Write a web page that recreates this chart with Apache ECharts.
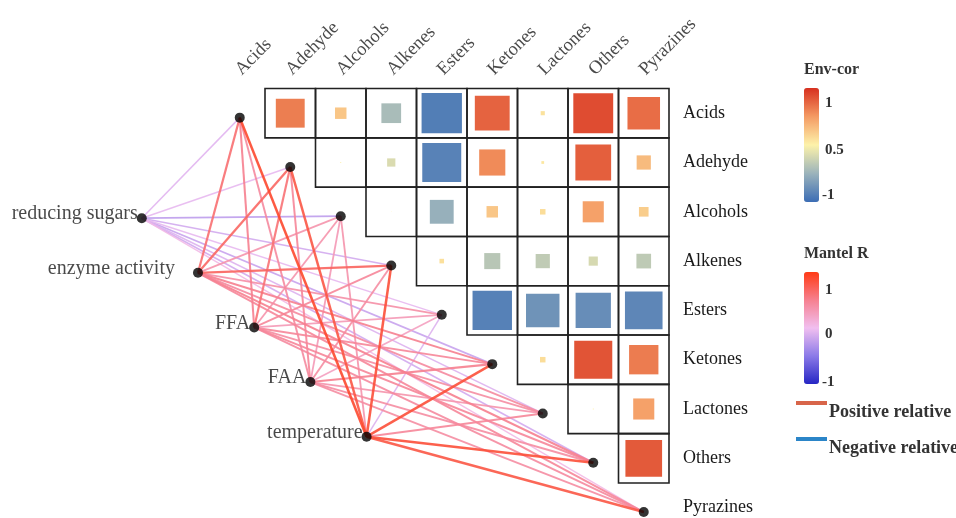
<!DOCTYPE html>
<html>
<head>
<meta charset="utf-8">
<script src="https://cdn.jsdelivr.net/npm/echarts@6/dist/echarts.min.js"></script>
<style>
  html, body { margin: 0; padding: 0; background: #fff; }
  #chart { width: 956px; height: 518px; }
</style>
</head>
<body>
<div id="chart"></div>
<script>
// Compound classes (rows and columns of the correlation matrix)
const compounds = ['Acids', 'Adehyde', 'Alcohols', 'Alkenes', 'Esters', 'Ketones', 'Lactones', 'Others', 'Pyrazines'];

// Upper-triangle correlations: each row holds r with the compounds that follow it
const corAcids    = [0.63, 0.25, -0.43, -0.88, 0.76, 0.09, 0.87, 0.71];
const corAdehyde  = [0.02, -0.18, -0.85, 0.57, 0.06, 0.78, 0.31];
const corAlcohols = [0.01, -0.52, 0.25, 0.12, 0.46, 0.21];
const corAlkenes  = [0.10, -0.35, -0.31, -0.20, -0.32];
const corEsters   = [-0.86, -0.73, -0.77, -0.82];
const corKetones  = [0.12, 0.83, 0.64];
const corLactones = [0.02, 0.46];
const corOthers   = [0.80];
const corRows = [corAcids, corAdehyde, corAlcohols, corAlkenes, corEsters, corKetones, corLactones, corOthers, []];

// Environmental factors and their Mantel r with each compound class
const envFactors = ['reducing sugars', 'enzyme activity', 'FFA', 'FAA', 'temperature'];
const mantelReducingSugars = [-0.08, -0.05, -0.25, -0.15, -0.05, -0.20, -0.10, -0.15, 0.05];
const mantelEnzymeActivity = [0.62, 0.68, 0.35, 0.70, 0.38, 0.50, 0.42, 0.50, 0.45];
const mantelFFA            = [0.50, 0.60, 0.35, 0.45, 0.30, 0.45, 0.40, 0.45, 0.42];
const mantelFAA            = [0.42, 0.45, 0.30, 0.40, 0.25, 0.50, 0.35, 0.40, 0.40];
const mantelTemperature    = [0.90, 0.80, 0.35, 0.85, -0.10, 0.85, 0.45, 0.85, 0.80];
const mantelRows = [mantelReducingSugars, mantelEnzymeActivity, mantelFFA, mantelFAA, mantelTemperature];

// Colour-bar tick labels
const envCorTicks = ['1', '0.5', '-1'];
const mantelTicks = ['1', '0', '-1'];

const serif = "'Liberation Serif', 'Times New Roman', serif";
const envCorColors = ['#3b6db5', '#9bb3bb', '#fdf2aa', '#f49a63', '#d7301f'];
const mantelColors = ['#2626c4', '#8b7ae8', '#f1bff0', '#f6808f', '#ff3a14'];

// Matrix cells (upper triangle without diagonal) and the coloured squares
const cellData = [];
const squareData = [];
corRows.forEach((row, i) => {
  row.forEach((r, k) => {
    const j = i + 1 + k;
    cellData.push([j, i]);
    squareData.push([j, i, r]);
  });
});

// Network layout: compound nodes sit on the diagonal, factors on a parallel line to the lower left
const compoundNode = i => [i, i + 0.09];
const envNode = j => [-1.94 + 1.113 * j, 2.13 + 1.108 * j];

const linkData = [];
mantelRows.forEach((row, j) => {
  row.forEach((r, i) => {
    const a = envNode(j), b = compoundNode(i);
    linkData.push([a[0], a[1], b[0], b[1], r]);
  });
});
// weaker links underneath, stronger on top
linkData.sort((p, q) => p[4] - q[4]);

const compoundDots = compounds.map((c, i) => compoundNode(i));
const envDots = envFactors.map((name, j) => {
  const p = envNode(j);
  return {
    value: p, name: name,
    label: { distance: name === 'enzyme activity' ? 20 : 1 }
  };
});
// column headers, slanted above the matrix
const columnHeads = compounds.map((c, i) => ({ value: [i - 0.03, -0.83], name: c }));

const nameAt = v => (Number.isInteger(v) && v >= 0 && v < compounds.length) ? compounds[v] : '';

const chart = echarts.init(document.getElementById('chart'), null, { renderer: 'canvas' });

const legendText = (txt, x, y, size) => ({
  type: 'text', left: x, top: y,
  style: { text: txt, font: 'bold ' + size + 'px ' + serif, fill: '#333', textVerticalAlign: 'middle' }
});

chart.setOption({
  backgroundColor: '#fff',
  animation: false,
  grid: { left: 37.75, top: 88.55, width: 631.25, height: 428.9 },
  xAxis: { type: 'value', min: -4, max: 8.5, show: false },
  yAxis: {
    type: 'value', min: -0.5, max: 8.2, interval: 0.5, inverse: true, position: 'right',
    axisLine: { show: false }, axisTick: { show: false }, splitLine: { show: false },
    axisLabel: { margin: 14, fontFamily: serif, fontSize: 18, color: '#1a1a1a', formatter: nameAt,
                 showMinLabel: false, showMaxLabel: false, hideOverlap: false }
  },
  visualMap: [
    {
      type: 'continuous', min: -1, max: 1, seriesIndex: 1, dimension: 2,
      inRange: { color: envCorColors },
      left: 804, top: 88, padding: 0, itemWidth: 15, itemHeight: 114,
      calculable: false, text: null, showLabel: false
    },
    {
      type: 'continuous', min: -1, max: 1, seriesIndex: 2, dimension: 4,
      inRange: { color: mantelColors },
      left: 804, top: 272, padding: 0, itemWidth: 15, itemHeight: 112,
      calculable: false, text: null, showLabel: false
    }
  ],
  series: [
    {
      // cell outlines
      type: 'custom', data: cellData, silent: true, z: 3, clip: false,
      encode: { x: 0, y: 1 },
      renderItem: (params, api) => {
        const c = api.coord([api.value(0), api.value(1)]);
        const s = api.size([1, 1]);
        return {
          type: 'rect',
          shape: { x: c[0] - s[0] / 2, y: c[1] - s[1] / 2, width: s[0], height: s[1] },
          style: { fill: 'none', stroke: '#222', lineWidth: 1.6 }
        };
      }
    },
    {
      // correlation squares, side proportional to |r|
      type: 'custom', data: squareData, silent: true, z: 2, clip: false,
      encode: { x: 0, y: 1 },
      renderItem: (params, api) => {
        const c = api.coord([api.value(0), api.value(1)]);
        const s = api.size([1, 1]);
        const side = Math.abs(api.value(2)) * 0.93 * Math.min(s[0], s[1]);
        return {
          type: 'rect',
          shape: { x: c[0] - side / 2, y: c[1] - side / 2, width: side, height: side },
          style: { fill: api.visual('color') }
        };
      }
    },
    {
      // Mantel links between factors and compound classes
      type: 'custom', data: linkData, silent: true, clip: false, z: 4,
      encode: { x: [0, 2], y: [1, 3] },
      renderItem: (params, api) => {
        const a = api.coord([api.value(0), api.value(1)]);
        const b = api.coord([api.value(2), api.value(3)]);
        const r = api.value(4);
        return {
          type: 'line',
          shape: { x1: a[0], y1: a[1], x2: b[0], y2: b[1] },
          style: { stroke: api.visual('color'), lineWidth: 1.4 + 1.3 * Math.abs(r), opacity: 0.9 }
        };
      }
    },
    {
      type: 'scatter', data: compoundDots, z: 6, clip: false,
      symbol: 'circle', symbolSize: 10, itemStyle: { color: '#000' }, silent: true
    },
    {
      type: 'scatter', data: envDots, z: 6, clip: false,
      symbol: 'circle', symbolSize: 10, itemStyle: { color: '#000' }, silent: true,
      label: {
        show: true, position: 'left', formatter: p => p.name, offset: [2, -4],
        fontFamily: serif, fontSize: 20, color: '#1a1a1a'
      }
    },
    {
      type: 'scatter', data: columnHeads, z: 6, clip: false, symbolSize: 0, silent: true,
      label: {
        show: true, position: 'right', distance: 0, rotate: 45, formatter: p => p.name,
        align: 'left', verticalAlign: 'middle',
        fontFamily: serif, fontSize: 18.5, color: '#1a1a1a'
      }
    }
  ],
  graphic: [
    legendText('Env-cor', 804, 62, 16),
    legendText(envCorTicks[0], 825, 96, 15),
    legendText(envCorTicks[1], 825, 143, 15),
    legendText(envCorTicks[2], 822, 188, 15),
    legendText('Mantel R', 804, 246, 16),
    legendText(mantelTicks[0], 825, 283, 15),
    legendText(mantelTicks[1], 825, 327, 15),
    legendText(mantelTicks[2], 822, 375, 15),
    { type: 'line', shape: { x1: 796, y1: 403, x2: 827, y2: 403 }, style: { stroke: '#d8654a', lineWidth: 4 } },
    legendText('Positive relative', 829, 403, 18),
    { type: 'line', shape: { x1: 796, y1: 439, x2: 827, y2: 439 }, style: { stroke: '#2b85c8', lineWidth: 4 } },
    legendText('Negative relative', 829, 439, 18)
  ]
});
</script>
</body>
</html>
